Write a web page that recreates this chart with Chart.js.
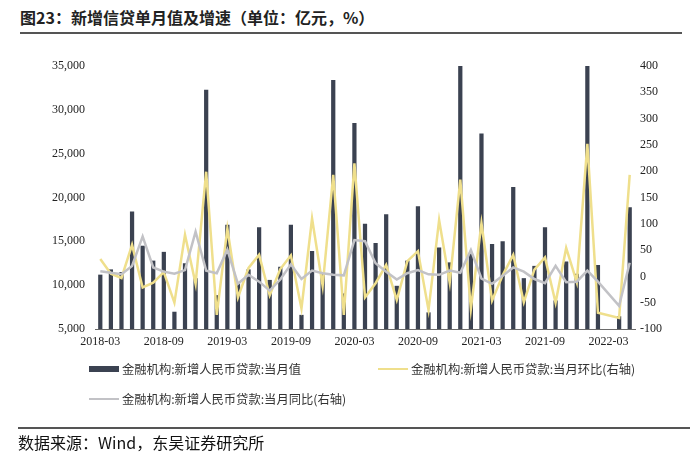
<!DOCTYPE html>
<html>
<head>
<meta charset="utf-8">
<script src="https://cdn.jsdelivr.net/npm/chart.js@4.4.1/dist/chart.umd.min.js"></script>
<style>
  html, body { margin: 0; padding: 0; background: #fff; }
  #wrap { position: relative; width: 700px; height: 462px; overflow: hidden; }
  #chart { position: absolute; left: 0; top: 0; }
  .title { position: absolute; left: 20px; top: 5px; font: bold 16px "Noto Sans CJK SC", sans-serif; color: #222; }
  .rule { position: absolute; height: 2px; background: #555; }
  .source { position: absolute; left: 18px; top: 430px; font: 16px "Noto Sans CJK SC", sans-serif; color: #111; }
  .legend { position: absolute; font: 12.3px "Noto Sans CJK SC", sans-serif; color: #333; display: flex; align-items: center; white-space: nowrap; }
  .legend i { display: inline-block; width: 30px; margin-right: 3px; }
</style>
</head>
<body>
<div id="wrap">
  <div class="title">图23：新增信贷单月值及增速（单位：亿元，%）</div>
  <div class="rule" style="left:20px; top:32px; width:662px;"></div>
  <canvas id="chart" width="700" height="462"></canvas>
  <div id="legend"></div>
  <div class="rule" style="left:18px; top:427px; width:672px; height:1.5px;"></div>
  <div class="source">数据来源：Wind，东吴证券研究所</div>
</div>
<script>
// months on the x axis
const months = [
  "2018-03","2018-04","2018-05","2018-06","2018-07","2018-08","2018-09","2018-10","2018-11","2018-12",
  "2019-01","2019-02","2019-03","2019-04","2019-05","2019-06","2019-07","2019-08","2019-09","2019-10","2019-11","2019-12",
  "2020-01","2020-02","2020-03","2020-04","2020-05","2020-06","2020-07","2020-08","2020-09","2020-10","2020-11","2020-12",
  "2021-01","2021-02","2021-03","2021-04","2021-05","2021-06","2021-07","2021-08","2021-09","2021-10","2021-11","2021-12",
  "2022-01","2022-02","2022-03","2022-04","2022-05"
];

// 当月值 (亿元), left axis
const monthlyLoans = [
  11200, 11800, 11500, 18400, 14500, 12800, 13800, 6970, 12500, 10800,
  32300, 8858, 16900, 10200, 11800, 16600, 10600, 12100, 16900, 6613, 13900, 11400,
  33400, 9057, 28500, 17000, 14800, 18100, 9927, 12800, 19000, 6898, 14300, 12600,
  35800, 13600, 27300, 14700, 15000, 21200, 10800, 12200, 16600, 8262, 12700, 11300,
  39800, 12300, null, 6454, 18900
];

// 当月环比 (%), right axis
const momPct = [
  33, 5, -3, 60, -21, -12, 8, -50, 79, -14,
  199, -73, 91, -40, 16, 41, -36, 14, 40, -61, 110, -18,
  193, -73, 215, -40, -13, 22, -45, 29, 48, -64, 107, -12,
  184, -62, 101, -46, 2, 41, -49, 13, 36, -50, 54, -11,
  252, -69, null, -79, 193
];

// 当月同比 (%), right axis
const yoyPct = [
  10, 7, 4, 20, 76, 17, 9, 5, 12, 85,
  11, 6, 51, -14, 3, -10, -27, -6, 23, -5, 11, 6,
  3, 2, 69, 67, 25, 9, -6, 6, 12, 4, 3, 11,
  7, 50, -4, -14, 1, 17, 9, -5, -13, 20, -11, -10,
  11, -10, null, -56, 26
];

const seriesNames = [
  "金融机构:新增人民币贷款:当月值",
  "金融机构:新增人民币贷款:当月环比(右轴)",
  "金融机构:新增人民币贷款:当月同比(右轴)"
];

const barColor = "#3b4251";
const momColor = "#efdf8c";
const yoyColor = "#c2c2c6";

const tickFont = { family: "Liberation Serif", size: 12 };

new Chart(document.getElementById("chart"), {
  data: {
    labels: months,
    datasets: [
      {
        type: "bar",
        label: seriesNames[0],
        data: monthlyLoans,
        backgroundColor: barColor,
        yAxisID: "y",
        barPercentage: 0.4,
        categoryPercentage: 1,
        clip: 0,
        order: 3
      },
      {
        type: "line",
        label: seriesNames[1],
        data: momPct,
        borderColor: momColor,
        borderWidth: 2.5,
        pointRadius: 0,
        tension: 0,
        spanGaps: true,
        yAxisID: "y1",
        order: 2
      },
      {
        type: "line",
        label: seriesNames[2],
        data: yoyPct,
        borderColor: yoyColor,
        borderWidth: 2.5,
        pointRadius: 0,
        tension: 0,
        spanGaps: true,
        yAxisID: "y1",
        order: 1
      }
    ]
  },
  options: {
    responsive: false,
    animation: false,
    layout: { padding: { top: 66, left: 0, right: 0, bottom: 0 } },
    plugins: { legend: { display: false }, tooltip: { enabled: false } },
    scales: {
      x: {
        grid: { display: false, drawTicks: false },
        border: { display: true, color: "#6a6a6a", width: 1 },
        ticks: {
          autoSkip: false,
          maxRotation: 0,
          padding: 6,
          color: "#222",
          font: tickFont,
          callback: function (v, i) { return i % 6 === 0 ? months[i] : ""; }
        },
        afterFit: function (s) { s.height = 133; }
      },
      y: {
        position: "left",
        min: 5000,
        max: 35000,
        grid: { display: false, drawTicks: false },
        border: { display: false },
        ticks: {
          stepSize: 5000,
          padding: 10,
          color: "#222",
          font: tickFont,
          callback: function (v) { return v.toLocaleString("en-US"); }
        },
        afterFit: function (s) { s.width = 95; }
      },
      y1: {
        position: "right",
        min: -100,
        max: 400,
        grid: { display: false, drawTicks: false },
        border: { display: false },
        ticks: { stepSize: 50, padding: 5, color: "#222", font: tickFont },
        afterFit: function (s) { s.width = 65; }
      }
    }
  }
});

// legend laid out like the original (two columns, two rows)
const legendSpots = [
  { left: 89, top: 360, swatch: "height:6px;background:" + barColor },
  { left: 378, top: 360, swatch: "height:2px;background:" + momColor },
  { left: 89, top: 390, swatch: "height:2px;background:" + yoyColor }
];
const legendBox = document.getElementById("legend");
seriesNames.forEach(function (name, i) {
  const spot = legendSpots[i];
  const el = document.createElement("div");
  el.className = "legend";
  el.style.left = spot.left + "px";
  el.style.top = spot.top + "px";
  el.innerHTML = '<i style="' + spot.swatch + '"></i><span>' + name + "</span>";
  legendBox.appendChild(el);
});
</script>
</body>
</html>
